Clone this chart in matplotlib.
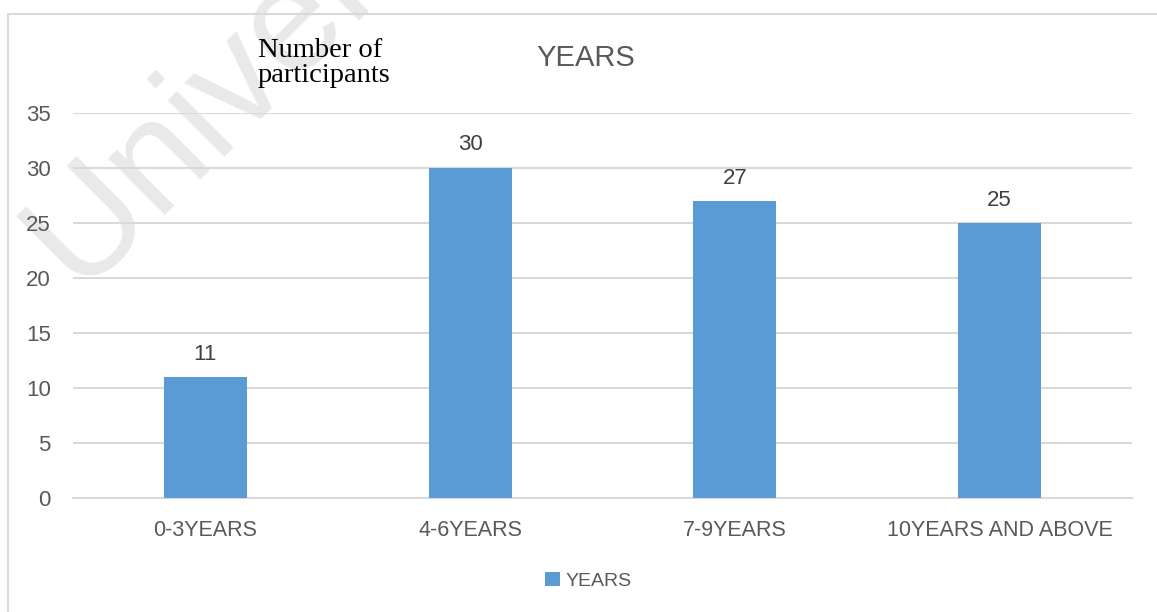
import matplotlib
matplotlib.use("Agg")
from matplotlib import pyplot as plt
from matplotlib.patches import Rectangle

categories = ["0-3YEARS", "4-6YEARS", "7-9YEARS", "10YEARS AND ABOVE"]
participants = [11, 30, 27, 25]
series_name = "YEARS"
y_ticks = [0, 5, 10, 15, 20, 25, 30, 35]

W, H = 1157, 612
BAR = "#5b9bd5"
GRID = "#d9d9d9"
TXT = "#595959"
SANS = ["Liberation Sans", "DejaVu Sans"]

fig = plt.figure(figsize=(W / 100, H / 100), dpi=100)

# watermark behind everything
fig.text(78 / W, 1 - 290 / H, "University", rotation=45, rotation_mode="anchor",
         ha="left", va="baseline", fontsize=108, color="#e9e9e9",
         family=SANS, zorder=-1)

# chart border
fig.add_artist(Rectangle((8 / W, -0.1), 1.1, 1.1 - 14 / H, transform=fig.transFigure,
                         fill=False, edgecolor=GRID, linewidth=1.5, zorder=1))

ax = fig.add_axes([73 / W, 1 - 498 / H, 1059 / W, 385 / H])
ax.patch.set_alpha(0)
x = list(range(len(categories)))
bars = ax.bar(x, participants, width=0.313, color=BAR, label=series_name, zorder=3)
for b, v in zip(bars, participants):
    ax.annotate(str(v), (b.get_x() + b.get_width() / 2, v), xytext=(0, 9),
                textcoords="offset points", ha="center", va="bottom",
                fontsize=16, color="#404040", family=SANS)

ax.set_xlim(-0.5, len(categories) - 0.5)
ax.set_ylim(0, 35)
ax.set_yticks(y_ticks)
ax.set_xticks(x)
ax.set_xticklabels(categories, family=SANS, fontsize=15.5, color=TXT)
for t in ax.get_yticklabels():
    t.set_family(SANS)
    t.set_fontsize(16)
    t.set_color(TXT)
ax.tick_params(axis="both", length=0)
ax.tick_params(axis="y", pad=16)
ax.tick_params(axis="x", pad=16)
ax.grid(axis="y", color=GRID, linewidth=1.5, zorder=0)
for s in ["top", "right", "left"]:
    ax.spines[s].set_visible(False)
ax.spines["bottom"].set_color(GRID)
ax.spines["bottom"].set_linewidth(1.5)

fig.text(586 / W, 1 - 58 / H, "YEARS", ha="center", va="center",
         fontsize=21, color=TXT, family=SANS)
fig.text(258 / W, 1 - 82 / H, "Number of\nparticipants", ha="left", va="baseline",
         fontsize=20.5, color="black", linespacing=1.0,
         family=["Liberation Serif", "DejaVu Serif"])

fig.legend(handles=[bars], labels=[series_name], loc="center",
           bbox_to_anchor=(588 / W, 1 - 581 / H), frameon=False,
           prop={"family": SANS, "size": 14}, labelcolor=TXT,
           handlelength=0.77, handleheight=0.77, handletextpad=0.3)

fig.savefig("out.png", dpi=100)
